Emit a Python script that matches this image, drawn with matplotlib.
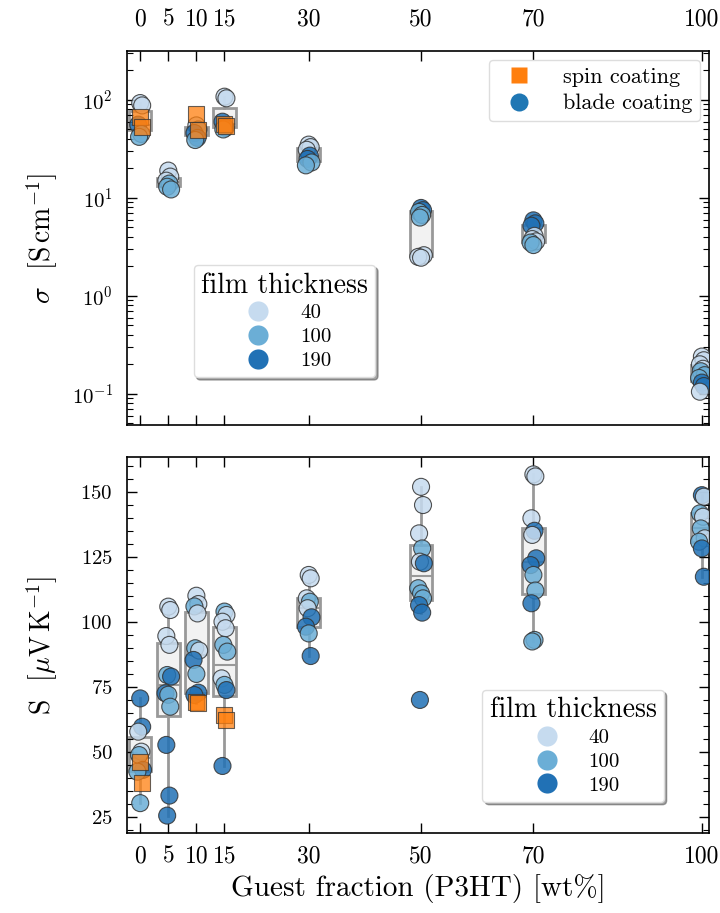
import numpy as np
import matplotlib
matplotlib.use("Agg")
from matplotlib import pyplot as plt
from matplotlib.lines import Line2D
from matplotlib.ticker import MultipleLocator

plt.rcParams['font.family'] = 'serif'
plt.rcParams['font.serif'] = ['cmr10']
plt.rcParams['mathtext.fontset'] = 'cm'
plt.rcParams['axes.formatter.use_mathtext'] = True
plt.rcParams['axes.unicode_minus'] = False

# Fracciones de huésped (wt%)
fractions = [0, 5, 10, 15, 30, 50, 70, 100]

# Conductividad (S/cm), blade coating: valores y espesores (nm)
sigma_blade = {
    0: [93, 88, 56, 45, 42],
    5: [19, 16.5, 15, 14, 13, 12.2],
    10: [55, 50, 46, 41, 39],
    15: [108, 104, 60, 52, 50],
    30: [35, 33, 31, 27, 25, 23, 21.5],
    50: [7.9, 7.5, 7.2, 6.7, 6.3, 2.6, 2.5, 2.45],
    70: [5.9, 5.5, 5.2, 4.1, 3.8, 3.6, 3.5, 3.3],
    100: [0.24, 0.22, 0.2, 0.18, 0.17, 0.155, 0.145, 0.13, 0.12, 0.105],
}
sigma_blade_thick = {
    0: [40, 40, 190, 100, 100],
    5: [40, 40, 40, 100, 100, 100],
    10: [40, 100, 190, 190, 100],
    15: [40, 40, 190, 190, 100],
    30: [40, 40, 40, 190, 190, 100, 100],
    50: [190, 190, 100, 100, 100, 40, 40, 40],
    70: [190, 190, 190, 40, 40, 40, 100, 100],
    100: [40, 40, 40, 40, 100, 100, 100, 190, 190, 40],
}
# Conductividad, spin coating
sigma_spin = {0: [67, 53], 10: [72, 49], 15: [57, 54]}

# Seebeck (uV/K), blade coating
seebeck_blade = {
    0: [70.6, 59.7, 57.8, 50.1, 48.8, 43.1, 42.4, 30.3],
    5: [105.9, 104.6, 94.6, 91.2, 79.6, 79, 72.6, 72, 67.4, 52.7, 33.2, 25.5],
    10: [110.1, 106.9, 106, 103.3, 89.9, 89, 85.4, 80, 72.8, 71.9],
    15: [104, 102.7, 100.1, 97.6, 91.2, 88.6, 78.3, 75.8, 73.8, 44.6],
    30: [118.1, 116.8, 109.1, 107.8, 105.3, 101.8, 98.2, 95.6, 86.9],
    50: [152, 145, 134.1, 128.3, 123.2, 122.6, 113, 111, 109.1, 106.5, 103.6, 70],
    70: [156.8, 156, 139.9, 135.1, 133.5, 124.5, 121.9, 118.1, 112.1, 107.2, 93.1, 92.5],
    100: [148.8, 148.2, 141.8, 140.5, 136, 132.2, 130.9, 128.3, 117.4],
}
seebeck_blade_thick = {
    0: [190, 190, 40, 40, 100, 190, 100, 100],
    5: [40, 40, 40, 40, 100, 190, 190, 100, 100, 190, 190, 190],
    10: [40, 40, 100, 40, 100, 40, 190, 100, 190, 190],
    15: [100, 40, 40, 40, 100, 100, 40, 100, 190, 190],
    30: [40, 40, 40, 100, 40, 190, 190, 100, 190],
    50: [40, 40, 40, 100, 40, 190, 100, 100, 100, 190, 190, 190],
    70: [40, 40, 40, 190, 40, 190, 190, 100, 100, 190, 100, 100],
    100: [190, 40, 100, 40, 100, 40, 100, 190, 190],
}
seebeck_spin = {0: [46.3, 38], 10: [69.4, 68.7], 15: [64.2, 62.3]}

thickness_levels = [40, 100, 190]
thickness_colors = {40: '#c6dbef', 100: '#6baed6', 190: '#2171b5'}
jitter = [0, 0.35, -0.35, 0.2, -0.2, 0.5, -0.5]


def dibuja_panel(ax, blade, blade_thick, spin):
    # Cajas con todos los puntos de cada fracción
    datos = [blade[f] + spin.get(f, []) for f in fractions]
    ax.boxplot(datos, positions=fractions, widths=4, patch_artist=True,
               showfliers=False, showcaps=False, manage_ticks=False,
               boxprops=dict(facecolor='#f2f2f2', edgecolor='#999999', linewidth=2),
               whiskerprops=dict(color='#999999', linewidth=2),
               medianprops=dict(color='#999999', linewidth=1.5),
               zorder=1)
    for f in fractions:
        vals = blade[f]
        xs = [f + jitter[i % len(jitter)] for i in range(len(vals))]
        cols = [thickness_colors[t] for t in blade_thick[f]]
        ax.scatter(xs, vals, s=150, c=cols, edgecolors='#333333',
                   linewidths=0.8, alpha=0.85, zorder=3)
    for f, vals in spin.items():
        xs = [f + jitter[i % len(jitter)] for i in range(len(vals))]
        ax.scatter(xs, vals, s=140, marker='s', c='#ff7f0e', edgecolors='#333333',
                   linewidths=0.8, alpha=0.75, zorder=4)


def leyenda_espesor(ax, **kw):
    handles = [Line2D([], [], ls='', marker='o', ms=14.5, mfc=thickness_colors[t],
                      mec='none') for t in thickness_levels]
    leg = ax.legend(handles, [str(t) for t in thickness_levels], title='film thickness',
                    fontsize=15, title_fontsize=20, shadow=True, fancybox=True,
                    framealpha=1, edgecolor='#dddddd', handletextpad=1.0,
                    labelspacing=0.25, borderpad=0.35, **kw)
    return leg


fig = plt.figure(figsize=(7.2, 9.13), dpi=100)
ax1 = fig.add_axes([0.176, 0.5345, 0.809, 0.4096])
ax2 = fig.add_axes([0.176, 0.0876, 0.809, 0.4119])

dibuja_panel(ax1, sigma_blade, sigma_blade_thick, sigma_spin)
dibuja_panel(ax2, seebeck_blade, seebeck_blade_thick, seebeck_spin)

ax1.set_yscale('log')
ax1.set_ylim(0.048, 316)
ax2.set_ylim(18.8, 163.5)
ax2.yaxis.set_major_locator(MultipleLocator(25))
ax2.yaxis.set_minor_locator(MultipleLocator(5))

for ax in (ax1, ax2):
    ax.set_xlim(-2.4, 101.3)
    ax.set_xticks(fractions)
    ax.set_xticklabels([str(f) for f in fractions])
    ax.tick_params(which='both', direction='in', top=True, right=True)
    ax.tick_params(which='major', length=7, width=1)
    ax.tick_params(which='minor', length=4, width=0.8)
    ax.tick_params(axis='x', labelsize=17, pad=9)
    ax.tick_params(axis='y', labelsize=15, pad=10)
    ax.yaxis.set_label_coords(-0.115, 0.5)
    for s in ax.spines.values():
        s.set_linewidth(1.2)

ax1.tick_params(axis='x', labeltop=True, labelbottom=False, pad=15)
ax1.set_ylabel(r'$\sigma$  [S$\,$cm$^{-1}$]', fontsize=20)
ax2.set_ylabel(r'S  [$\mu$V$\,$K$^{-1}$]', fontsize=20)
ax2.set_xlabel('Guest fraction (P3HT) [wt%]', fontsize=21)
ax2.xaxis.set_label_coords(0.5, -0.11)

# Leyenda de método de depósito
metodo = [Line2D([], [], ls='', marker='s', ms=12, mfc='#ff7f0e', mec='none'),
          Line2D([], [], ls='', marker='o', ms=13, mfc='#1f77b4', mec='none')]
leg_m = ax1.legend(metodo, ['spin coating', 'blade coating'], loc='upper right',
                   fontsize=16, fancybox=True, framealpha=1, edgecolor='#dddddd',
                   handletextpad=1.0, labelspacing=0.3, borderaxespad=0.4,
                   borderpad=0.35)
ax1.add_artist(leg_m)
leyenda_espesor(ax1, loc='lower left', bbox_to_anchor=(0.097, 0.1))
leyenda_espesor(ax2, loc='lower right', bbox_to_anchor=(0.94, 0.055))

fig.savefig('out.png', dpi=100)
